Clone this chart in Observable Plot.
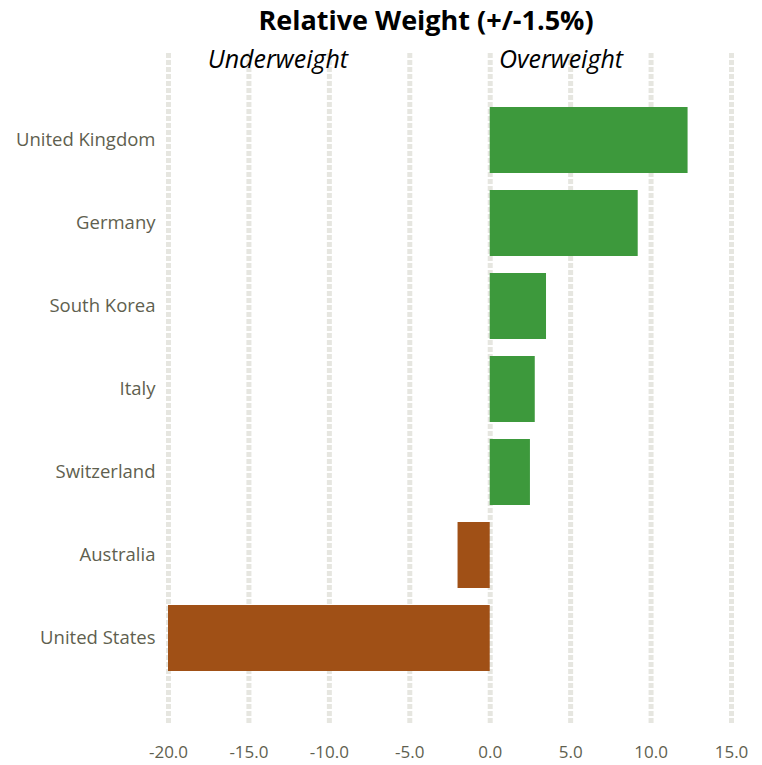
<!DOCTYPE html>
<html>
<head>
<meta charset="utf-8">
<script src="https://cdn.jsdelivr.net/npm/d3@7"></script>
<script src="https://cdn.jsdelivr.net/npm/@observablehq/plot@0.6"></script>
<style>
  html, body { margin: 0; padding: 0; background: #fff; }
  #wrap { position: relative; width: 762px; height: 765px; font-family: "Open Sans", sans-serif; }
  #title { position: absolute; top: 2px; left: 0; width: 852px; text-align: center; font-weight: bold; font-size: 27px; line-height: 36px; color: #000; }
</style>
</head>
<body>
<div id="wrap">
  <div id="chart"></div>
  <div id="title">Relative Weight (+/-1.5%)</div>
</div>
<script>
const countries = ["United Kingdom", "Germany", "South Korea", "Italy", "Switzerland", "Australia", "United States"];
const weights = [12.3, 9.2, 3.5, 2.8, 2.5, -2.0, -20.0];
const xTicks = [-20, -15, -10, -5, 0, 5, 10, 15];
const annotations = [
  {label: "Underweight", x: -13.2},
  {label: "Overweight", x: 4.4}
];

const data = countries.map((c, i) => ({country: c, value: weights[i]}));
const green = "#3d993c";
const brown = "#a05016";
const labelColor = "#5f5f4f";

const chart = Plot.plot({
  width: 762,
  height: 765,
  marginLeft: 168,
  marginRight: 31,
  marginTop: 53,
  marginBottom: 40,
  style: {fontFamily: "Open Sans, sans-serif", background: "#fff"},
  x: {domain: [-20, 15], ticks: xTicks},
  y: {domain: countries, padding: 0.2, paddingOuter: 0.612},
  marks: [
    Plot.ruleX(xTicks, {x: d => d, stroke: "#e6e6e0", strokeWidth: 5, strokeDasharray: "5,2"}),
    Plot.barX(data, {x: "value", y: "country", fill: d => d.value >= 0 ? green : brown}),
    Plot.axisX({ticks: xTicks, tickFormat: d => d.toFixed(1), tickSize: 0, tickPadding: 20, fontSize: 17, fill: labelColor, label: null}),
    Plot.axisY({tickSize: 0, tickPadding: 13, fontSize: 18.5, fill: labelColor, label: null}),
    Plot.text(annotations, {x: "x", text: "label", frameAnchor: "top", dy: -3, fontSize: 25, fontStyle: "italic", fill: "#000"})
  ]
});
document.getElementById("chart").appendChild(chart);
</script>
</body>
</html>
